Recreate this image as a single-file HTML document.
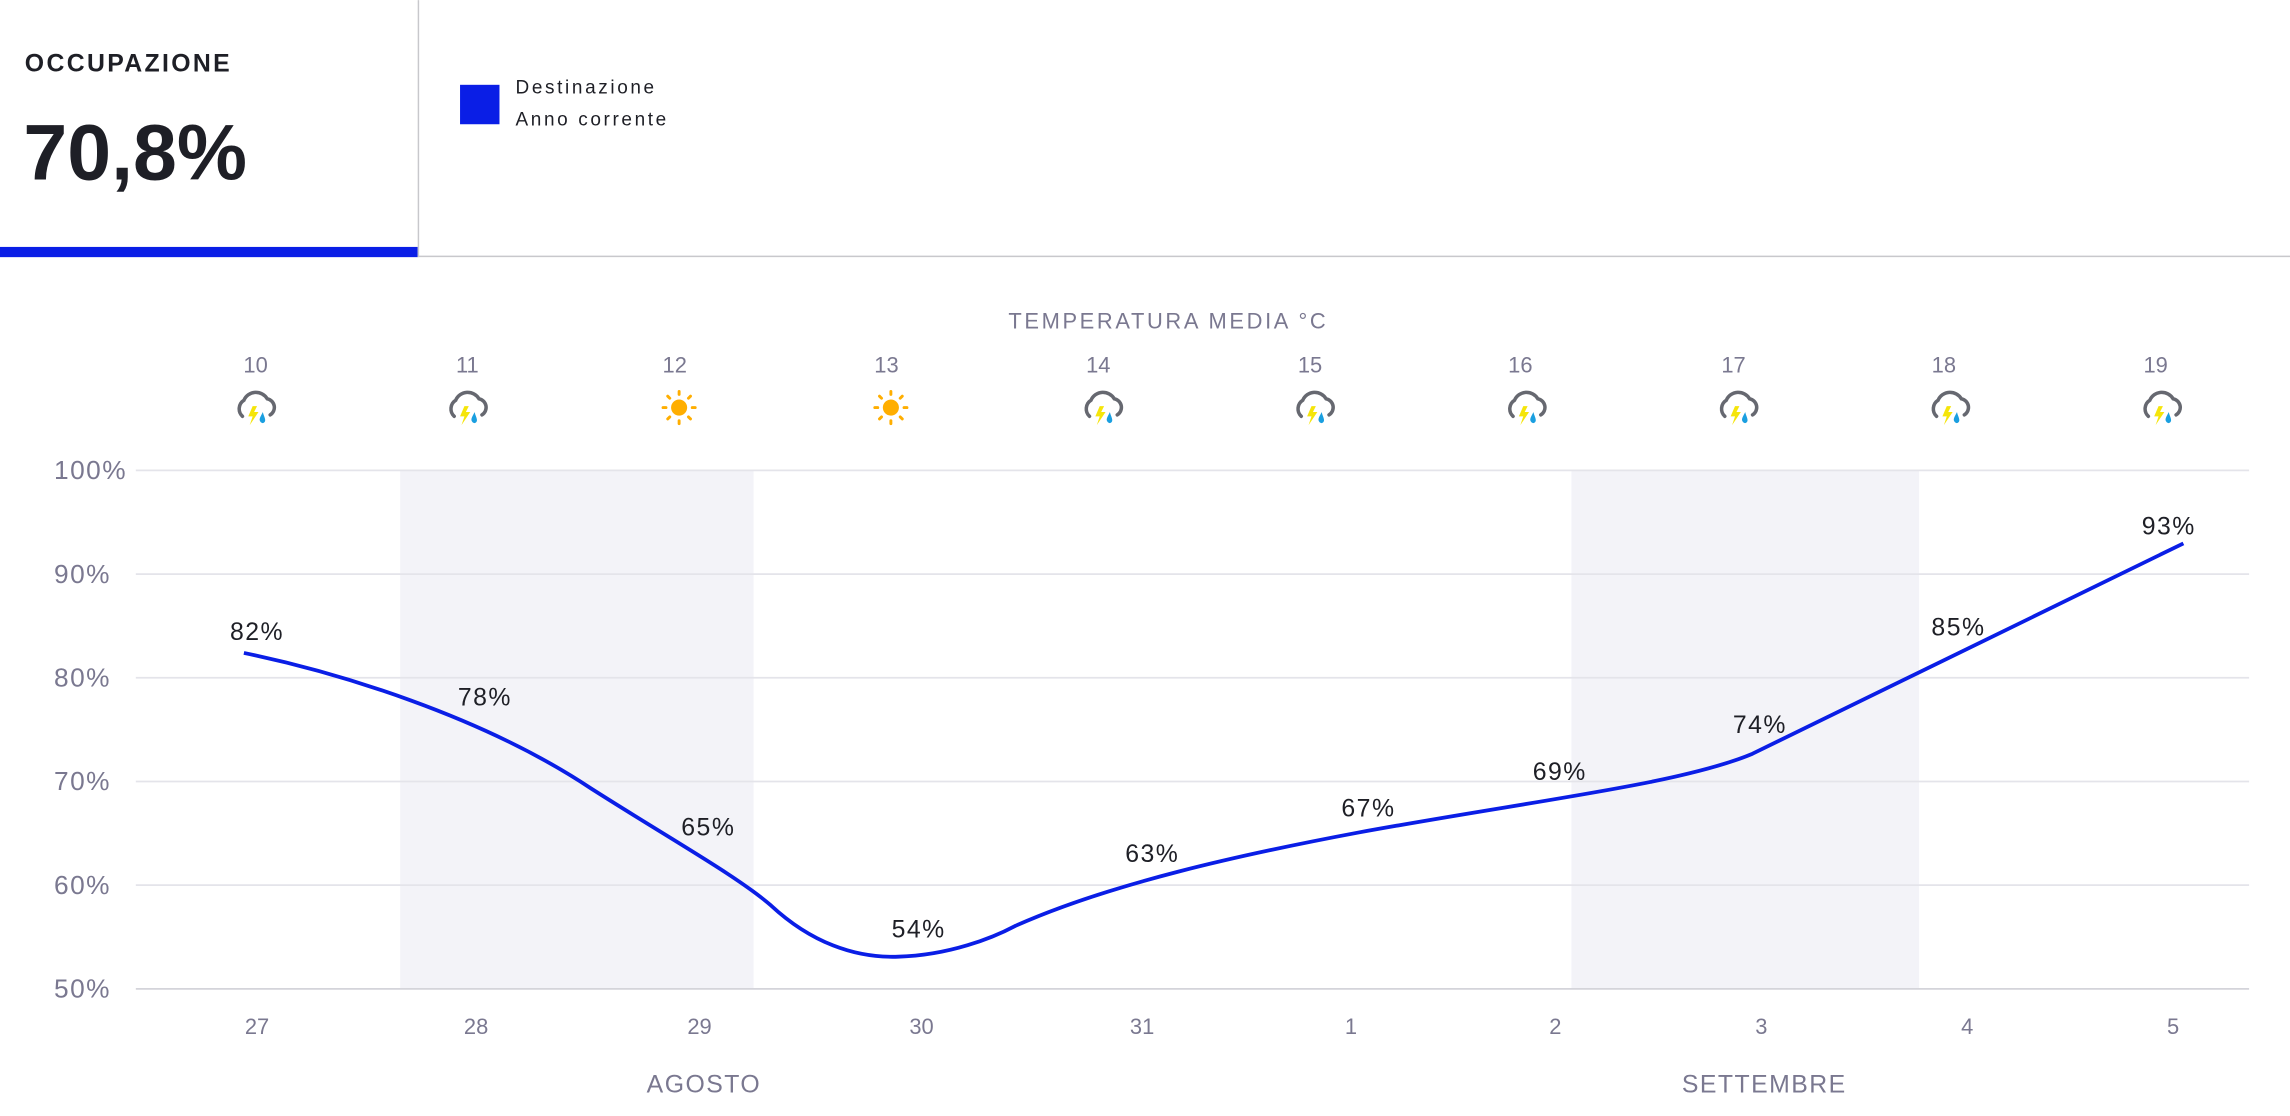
<!DOCTYPE html>
<html><head><meta charset="utf-8"><style>
html,body{margin:0;padding:0;background:#fff}
svg{display:block}
text{font-family:"Liberation Sans",sans-serif}
</style></head><body>
<svg width="2290" height="1116" viewBox="0 0 1568 764" xmlns="http://www.w3.org/2000/svg">
<defs>
<g id="storm">
<path d="M-9,6 A7,7 0 0 1 -8,-5 A9,9 0 0 1 8,-6 A6,6 0 0 1 10,5" fill="none" stroke="#666870" stroke-width="2.4" stroke-linecap="round"/>
<path d="M-2,-1 L-5,6 L-2,6 L-4,12 L2,3 L-1,3 L1,-1 Z" fill="#f5e50a"/>
<path d="M5,3 C3,7 2,8 3.5,10 C5,11.5 7,10 6.5,8 C6.5,7 5,4 5,3Z" fill="#1a9fe0"/>
</g>
<g id="sun">
<circle r="5.5" fill="#ffae00"/>
<g stroke="#ffae00" stroke-width="2" stroke-linecap="round">
<line x1="0" y1="-9" x2="0" y2="-11"/><line x1="0" y1="9" x2="0" y2="11"/>
<line x1="-9" y1="0" x2="-11" y2="0"/><line x1="9" y1="0" x2="11" y2="0"/>
<line x1="6.4" y1="6.4" x2="7.8" y2="7.8"/><line x1="-6.4" y1="6.4" x2="-7.8" y2="7.8"/>
<line x1="6.4" y1="-6.4" x2="7.8" y2="-7.8"/><line x1="-6.4" y1="-6.4" x2="-7.8" y2="-7.8"/>
</g>
</g>
</defs>
<rect x="0" y="169" width="286" height="7" fill="#0a1ee6"/>
<line x1="286.5" y1="0" x2="286.5" y2="176" stroke="#c8c8cc" stroke-width="1"/>
<line x1="286" y1="175.5" x2="1568" y2="175.5" stroke="#c8c8cc" stroke-width="1"/>
<text x="17" y="49" font-size="17" font-weight="bold" fill="#1e1f26" letter-spacing="1.6">OCCUPAZIONE</text>
<text x="16" y="123" font-size="54" font-weight="bold" fill="#1e1f26">70,8%</text>
<rect x="315" y="58" width="27" height="27" fill="#0a1ee6"/>
<text x="353" y="64" font-size="13" fill="#1e1f26" letter-spacing="1.8">Destinazione</text>
<text x="353" y="86" font-size="13" fill="#1e1f26" letter-spacing="1.8">Anno corrente</text>
<text x="800" y="225" font-size="15" fill="#7a7890" text-anchor="middle" letter-spacing="1.8">TEMPERATURA MEDIA °C</text>
<g font-size="15" fill="#7a7890" text-anchor="middle">
<text x="175" y="255">10</text><text x="320" y="255">11</text><text x="462" y="255">12</text><text x="607" y="255">13</text><text x="752" y="255">14</text><text x="897" y="255">15</text><text x="1041" y="255">16</text><text x="1187" y="255">17</text><text x="1331" y="255">18</text><text x="1476" y="255">19</text>
</g>
<use href="#storm" x="175" y="279"/><use href="#storm" x="320" y="279"/>
<use href="#sun" x="465" y="279"/><use href="#sun" x="610" y="279"/>
<use href="#storm" x="755" y="279"/><use href="#storm" x="900" y="279"/><use href="#storm" x="1045" y="279"/><use href="#storm" x="1190" y="279"/><use href="#storm" x="1335" y="279"/><use href="#storm" x="1480" y="279"/>
<rect x="274" y="322" width="242" height="355" fill="#f3f3f8"/>
<rect x="1076" y="322" width="238" height="355" fill="#f3f3f8"/>
<g stroke="#e4e4ea" stroke-width="1.2">
<line x1="93" y1="322" x2="1540" y2="322"/><line x1="93" y1="393" x2="1540" y2="393"/><line x1="93" y1="464" x2="1540" y2="464"/><line x1="93" y1="535" x2="1540" y2="535"/><line x1="93" y1="606" x2="1540" y2="606"/>
</g>
<line x1="93" y1="677" x2="1540" y2="677" stroke="#d4d4da" stroke-width="1.2"/>
<g font-size="18" fill="#7a7890" letter-spacing="1">
<text x="37" y="328">100%</text><text x="37" y="399">90%</text><text x="37" y="470">80%</text><text x="37" y="541">70%</text><text x="37" y="612">60%</text><text x="37" y="683">50%</text>
</g>
<g font-size="15" fill="#7a7890" text-anchor="middle">
<text x="176" y="708">27</text><text x="326" y="708">28</text><text x="479" y="708">29</text><text x="631" y="708">30</text><text x="782" y="708">31</text><text x="925" y="708">1</text><text x="1065" y="708">2</text><text x="1206" y="708">3</text><text x="1347" y="708">4</text><text x="1488" y="708">5</text>
</g>
<g font-size="17" fill="#7a7890" text-anchor="middle" letter-spacing="1">
<text x="482" y="748">AGOSTO</text><text x="1208" y="748">SETTEMBRE</text>
</g>
<path d="M167,447 C230,460 330,490 405,540 C460,575 505,600 528,620 C555,645 585,656 615,655 C650,654 680,642 695,634 C760,605 850,585 930,570 C1050,548 1150,537 1200,516 L1495,372" fill="none" stroke="#0a1ee6" stroke-width="2.6"/>
<g font-size="17" fill="#1e1f26" text-anchor="middle" letter-spacing="1">
<text x="176" y="438">82%</text><text x="332" y="483">78%</text><text x="485" y="572">65%</text><text x="629" y="642">54%</text><text x="789" y="590">63%</text><text x="937" y="559">67%</text><text x="1068" y="534">69%</text><text x="1205" y="502">74%</text><text x="1341" y="435">85%</text><text x="1485" y="366">93%</text>
</g>
</svg>
</body></html>
